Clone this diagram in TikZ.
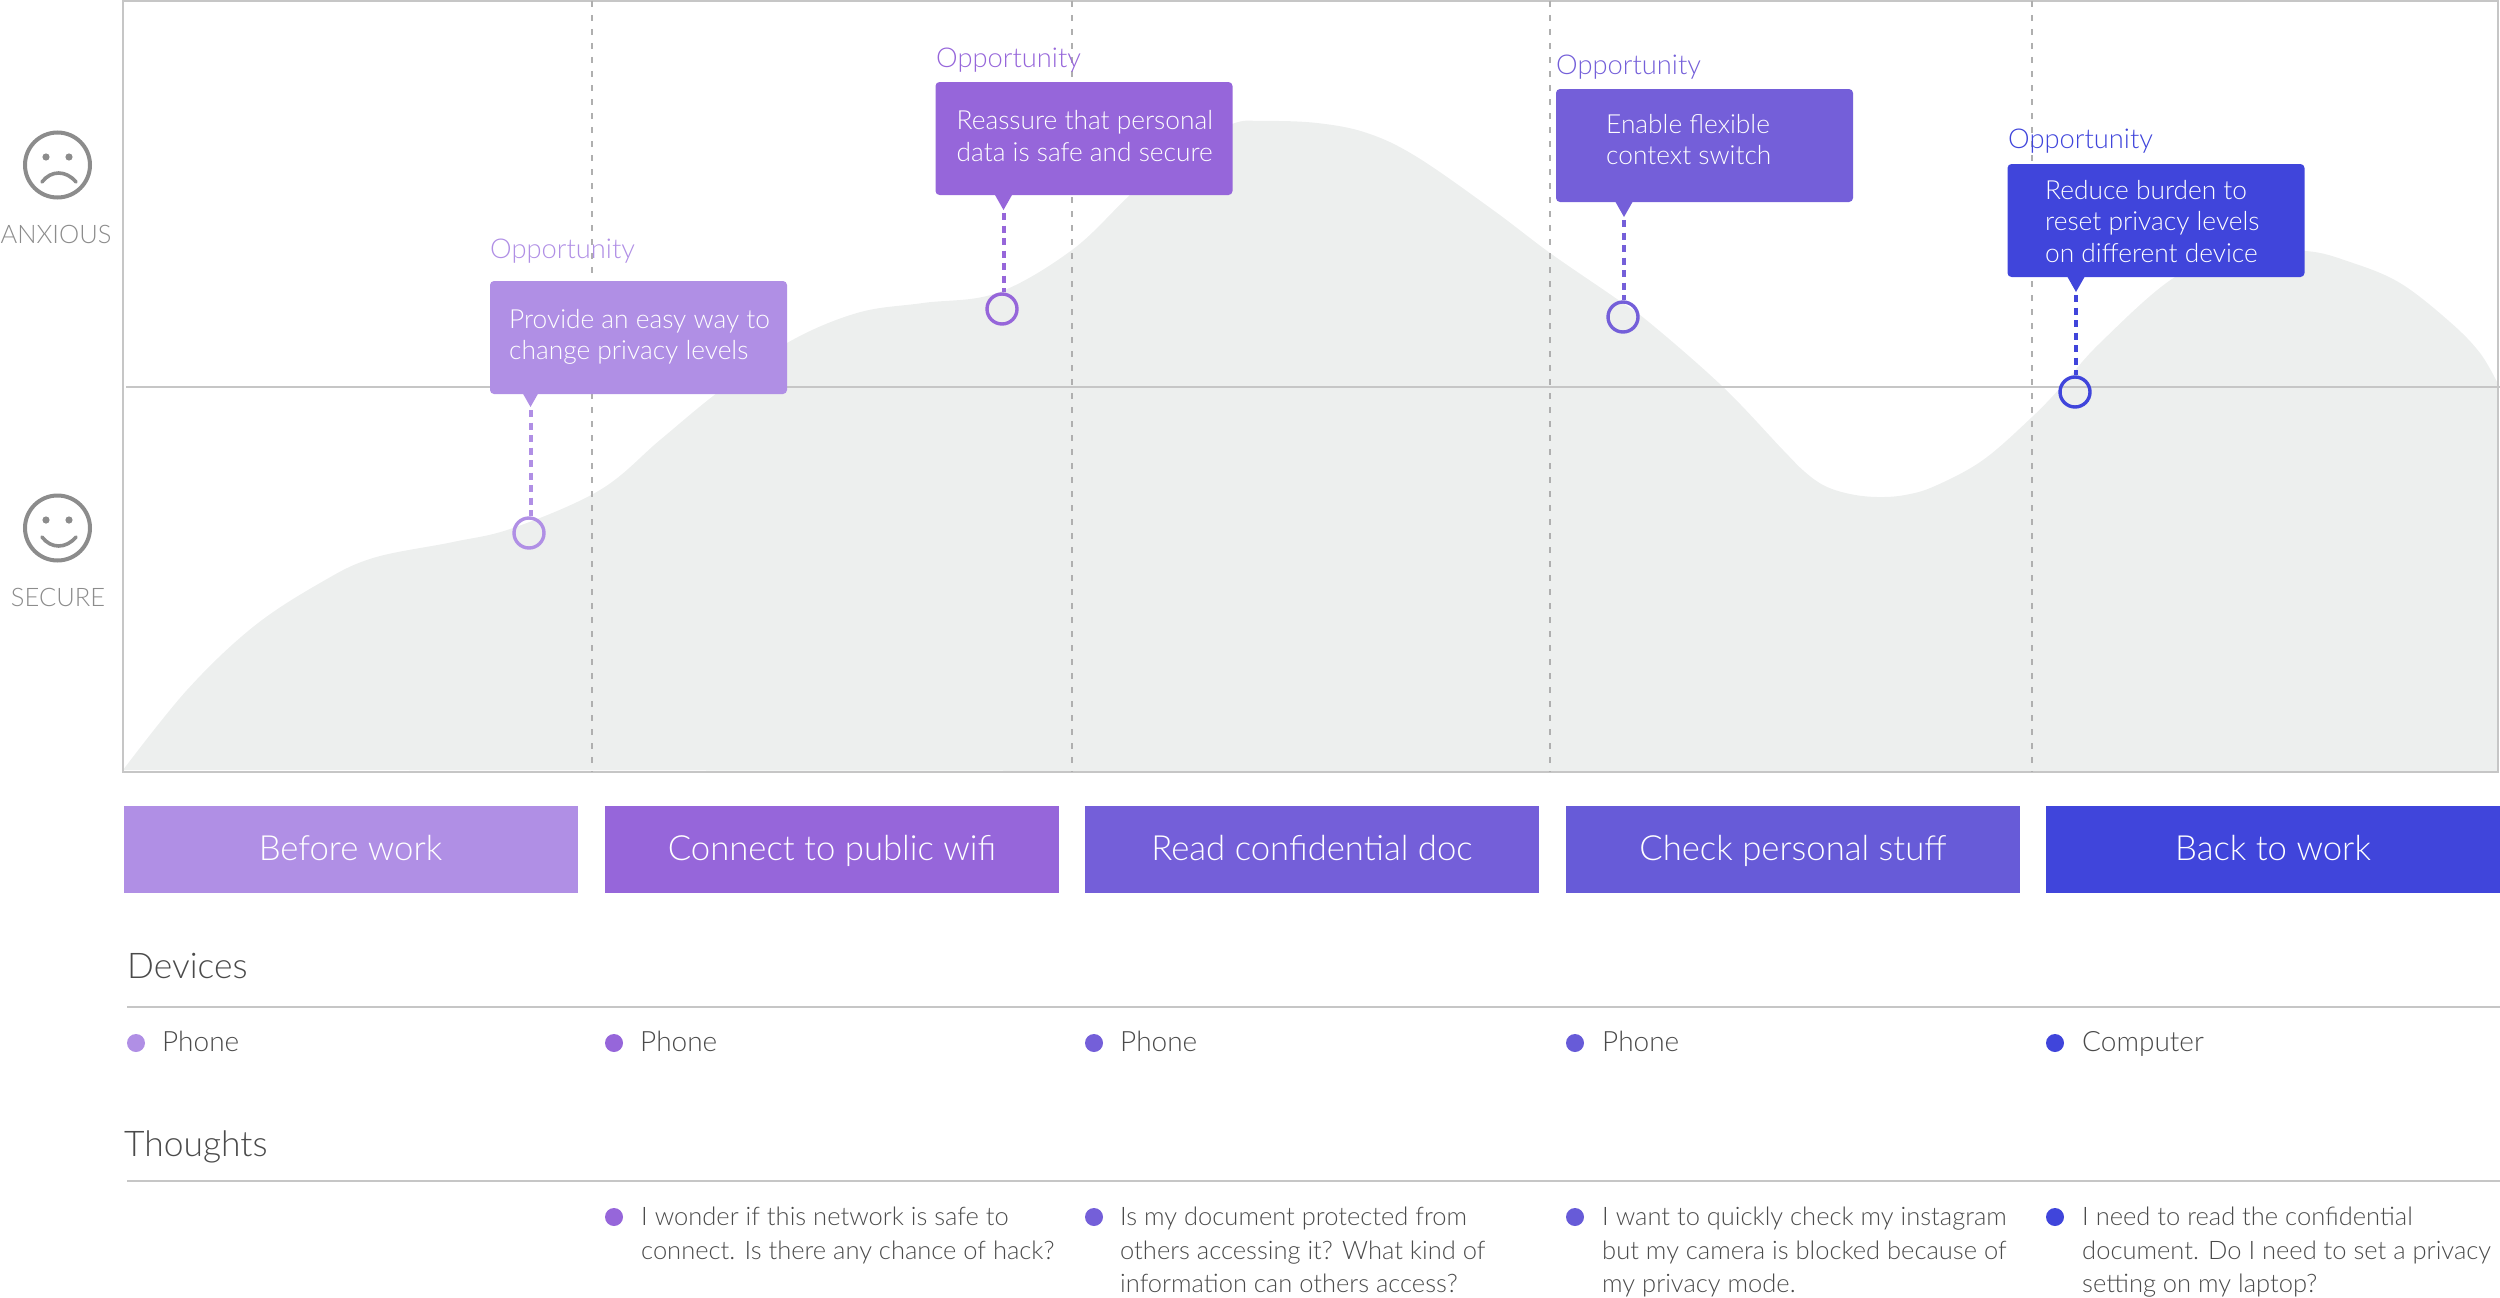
\documentclass[tikz,border=0pt]{standalone}
\usepackage{fontspec}
\setmainfont{Lato}[UprightFont=* Light]
\definecolor{stepa}{HTML}{B08FE5}
\definecolor{stepb}{HTML}{9666DA}
\definecolor{stepc}{HTML}{745FD9}
\definecolor{stepd}{HTML}{675BD8}
\definecolor{stepe}{HTML}{4045DB}
\definecolor{rulegray}{HTML}{C6C6C6}
\definecolor{facegray}{HTML}{8C8C8C}
\definecolor{inkgray}{HTML}{4A4A4A}
\definecolor{areagray}{HTML}{EDEFEE}
\tikzset{
  bandbox/.style={rectangle, minimum width=454, minimum height=87, inner sep=0, text=white, text height=28, text depth=7, font=\fontsize{34.7}{40}\selectfont},
  oppbox/.style={rectangle, rounded corners=4, minimum width=297, minimum height=113, inner sep=0},
  opptext/.style={anchor=west, inner sep=0, text=white, align=left, font=\fontsize{26.3}{31.5}\selectfont},
  opplabel/.style={anchor=base west, inner sep=0, font=\fontsize{27.3}{32}\selectfont},
  ringdot/.style={circle, draw, line width=3.4, fill=none, minimum size=30, inner sep=0},
  bullet/.style={circle, minimum size=18, inner sep=0},
  rowlabel/.style={anchor=base west, inner sep=0, text=inkgray, font=\fontsize{28}{32}\selectfont},
  headlabel/.style={anchor=base west, inner sep=0, text=inkgray, font=\fontsize{35.4}{40}\selectfont},
  thought/.style={anchor=north west, inner sep=0, text=inkgray, align=left, font=\fontsize{25.5}{33.3}\selectfont},
  moodlabel/.style={anchor=base, inner sep=0, text=facegray, font=\fontsize{25.5}{30}\selectfont},
  moodface/.style={circle, draw=facegray, line width=4, minimum size=65, inner sep=0}
}
\begin{document}
\begin{tikzpicture}[x=1pt, y=-1pt]
      \useasboundingbox (0,0) rectangle (2500,1298);
      % curve
      \fill[areagray] plot[smooth, tension=0.6] coordinates {(123,770) (187,690) (253,627) (320,583) (373,558) (453,542) (513,528) (600,490) (660,440) (717,393) (787,343) (857,313) (923,303) (997,293) (1072,250) (1130,195) (1180,152) (1232,124) (1263,121) (1317,123) (1367,133) (1417,157) (1493,210) (1550,253) (1614,297) (1650,323) (1723,387) (1783,450) (1805,472) (1825,486) (1850,494) (1877,497) (1905,495) (1935,486) (1983,460) (2032,417) (2061,387) (2100,343) (2175,277) (2240,255) (2305,251) (2350,262) (2400,283) (2450,322) (2480,353) (2498,384)} -- (2498,772) -- cycle;
      \draw[rulegray, line width=1.5] (123,1) rectangle (2498,772);
      \coordinate (v1a) at (592,1); \coordinate (v1b) at (592,772);
      \coordinate (v2a) at (1072,1); \coordinate (v2b) at (1072,772);
      \coordinate (v3a) at (1550,1); \coordinate (v3b) at (1550,772);
      \coordinate (v4a) at (2032,1); \coordinate (v4b) at (2032,772);
      \foreach \source/\dest in {v1a/v1b, v2a/v2b, v3a/v3b, v4a/v4b}
        \path[draw=facegray!70, line width=1.5, dash pattern=on 6pt off 8pt] (\source) -- (\dest);
      \coordinate (m1) at (126,387); \coordinate (m2) at (2500,387);
      \coordinate (r1) at (127,1007); \coordinate (r2) at (2500,1007);
      \coordinate (r3) at (127,1181); \coordinate (r4) at (2500,1181);
      \foreach \source/\dest in {m1/m2, r1/r2, r3/r4}
        \path[draw=rulegray, line width=2] (\source) -- (\dest);
      % mood column
      \node (sad) at (57.5,165) [moodface] {};
      \fill[facegray] (46,157) circle (3.6) (69,157) circle (3.6);
      \draw[facegray, line width=3.6, line cap=round] (42,182) .. controls (51,170) and (66,170) .. (76,182);
      \node (anxious) at (56,243) [moodlabel] {ANXIOUS};
      \node (happy) at (57.5,528) [moodface] {};
      \fill[facegray] (46,520) circle (3.6) (69,520) circle (3.6);
      \draw[facegray, line width=3.6, line cap=round] (42,537) .. controls (51,549) and (66,549) .. (76,537);
      \node (secure) at (58,606) [moodlabel] {SECURE};
      % opportunities
      \node (o1) at (638.5,337.5) [oppbox, fill=stepa] {};
      \node (o2) at (1084,138.5) [oppbox, fill=stepb] {};
      \node (o3) at (1704.5,145.5) [oppbox, fill=stepc] {};
      \node (o4) at (2156,220.5) [oppbox, fill=stepe] {};
      \node (x1) at (509,337) [opptext] {Provide an easy way to\\change privacy levels};
      \node (x2) at (956.5,136) [opptext] {Reassure that personal\\data is safe and secure};
      \node (x3) at (1606,139.5) [opptext] {Enable flexible\\context switch};
      \node (x4) at (2045,221.5) [opptext] {Reduce burden to\\reset privacy levels\\on different device};
      \node (l1) at (490,258.5) [opplabel, text=stepa] {Opportunity};
      \node (l2) at (936,67.5) [opplabel, text=stepb] {Opportunity};
      \node (l3) at (1556,74.5) [opplabel, text=stepc] {Opportunity};
      \node (l4) at (2008,148.5) [opplabel, text=stepe] {Opportunity};
      \coordinate (t1) at (530.5,407);
      \coordinate (t2) at (1003.5,210);
      \coordinate (t3) at (1624,217);
      \coordinate (t4) at (2076,292);
      \node (c1) at (529,533) [ringdot, draw=stepa] {};
      \node (c2) at (1002,309) [ringdot, draw=stepb] {};
      \node (c3) at (1623,317) [ringdot, draw=stepc] {};
      \node (c4) at (2075,392) [ringdot, draw=stepe] {};
      \foreach \source/\dest/\shade in {t1/c1/stepa, t2/c2/stepb, t3/c3/stepc, t4/c4/stepe} {
        \fill[\shade] (\source) -- +(-8.5,-15) -- +(8.5,-15) -- cycle;
        \path[draw=\shade, line width=4, dash pattern=on 7pt off 5.5pt] (\source) ++(0,3) -- (\source |- \dest.north);
      }
      % steps
      \node (b1) at (350.5,849.5) [bandbox, fill=stepa] {Before work};
      \node (b2) at (832,849.5) [bandbox, fill=stepb] {Connect to public wifi};
      \node (b3) at (1312,849.5) [bandbox, fill=stepc] {Read confidential doc};
      \node (b4) at (1793,849.5) [bandbox, fill=stepd] {Check personal stuff};
      \node (b5) at (2273,849.5) [bandbox, fill=stepe] {Back to work};
      % devices
      \node (devices) at (127,978.5) [headlabel] {Devices};
      \node (d1) at (136,1043) [bullet, fill=stepa] {};
      \node (d2) at (614,1043) [bullet, fill=stepb] {};
      \node (d3) at (1094,1043) [bullet, fill=stepc] {};
      \node (d4) at (1575,1043) [bullet, fill=stepd] {};
      \node (d5) at (2055,1043) [bullet, fill=stepe] {};
      \node (p1) at (162,1051) [rowlabel] {Phone};
      \node (p2) at (640,1051) [rowlabel] {Phone};
      \node (p3) at (1120,1051) [rowlabel] {Phone};
      \node (p4) at (1602,1051) [rowlabel] {Phone};
      \node (p5) at (2082,1051) [rowlabel] {Computer};
      % thoughts
      \node (thoughts) at (124,1156.5) [headlabel] {Thoughts};
      \node (e2) at (614,1217) [bullet, fill=stepb] {};
      \node (e3) at (1094,1217) [bullet, fill=stepc] {};
      \node (e4) at (1575,1217) [bullet, fill=stepd] {};
      \node (e5) at (2055,1217) [bullet, fill=stepe] {};
      \node (q2) at (641,1207) [thought] {I wonder if this network is safe to\\connect. Is there any chance of hack?};
      \node (q3) at (1120,1207) [thought] {Is my document protected from\\others accessing it? What kind of\\information can others access?};
      \node (q4) at (1602,1207) [thought] {I want to quickly check my instagram\\but my camera is blocked because of\\my privacy mode.};
      \node (q5) at (2082,1207) [thought] {I need to read the confidential\\document. Do I need to set a privacy\\setting on my laptop?};
    \end{tikzpicture}
\end{document}
